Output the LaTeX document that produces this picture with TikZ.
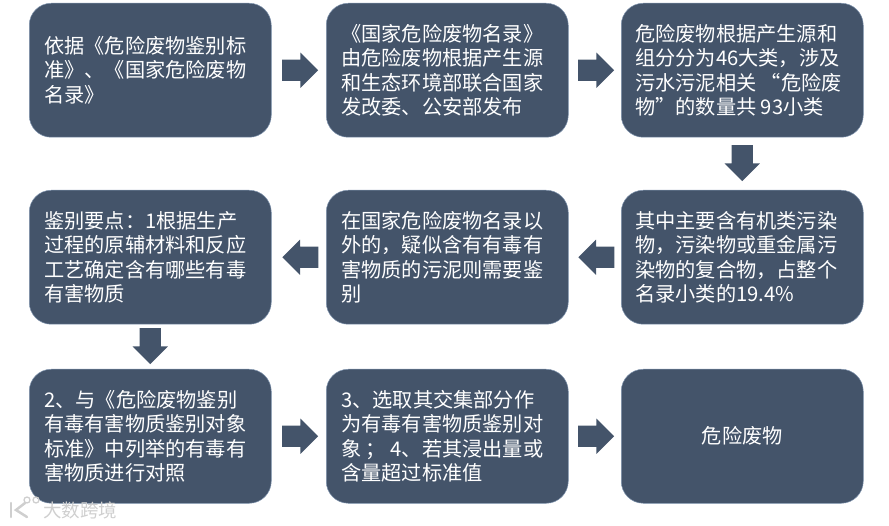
\documentclass[tikz,border=0pt]{standalone}
\usepackage{fontspec}
\setmainfont{Noto Sans CJK SC}
\usetikzlibrary{shapes.arrows,calc}
\definecolor{boxblue}{HTML}{44546A}
\definecolor{boxedge}{HTML}{7F93AD}
\definecolor{wmgray}{HTML}{CFCFCF}
\tikzset{
  x=1pt,y=-1pt,
  flowbox/.style={draw=boxedge,line width=0.5pt,fill=boxblue,rounded corners=22pt,minimum width=242pt,minimum height=134pt,inner sep=0pt,text=white,font=\fontsize{20.2pt}{24.3pt}\selectfont,align=left,anchor=north west},
  blockbase/.style={shape=single arrow,fill=boxblue,draw=none,minimum height=36pt,text depth=0pt,single arrow head extend=7pt,single arrow head indent=0pt,inner sep=0pt},
  rightarrow/.style={blockbase,text height=21pt,text width=16pt,xshift=-4pt},
  leftarrow/.style={blockbase,text height=21pt,text width=16pt,shape border rotate=180,xshift=7pt},
  downarrow/.style={blockbase,text width=21pt,text height=16pt,shape border rotate=270,yshift=6pt},
}
\begin{document}
\begin{tikzpicture}
\useasboundingbox (0,0) rectangle (889,526);
\node[flowbox] (a1) at (29,3) {\parbox{212pt}{依据《危险废物鉴别标\\准》、《国家危险废物\\名录》}};
\node[flowbox] (a2) at (326,3) {\parbox{212pt}{《国家危险废物名录》\\由危险废物根据产生源\\和生态环境部联合国家\\发改委、公安部发布}};
\node[flowbox] (a3) at (621,3) {\parbox{214pt}{危险废物根据产生源和\\组分分为46大类，涉及\\污水污泥相关 “危险废\\物”的数量共 93小类}};
\node[flowbox] (b3) at (621,190) {\parbox{214pt}{其中主要含有机类污染\\物，污染物或重金属污\\染物的复合物，占整个\\名录小类的19.4\%}};
\node[flowbox] (b2) at (326,190) {\parbox{212pt}{在国家危险废物名录以\\外的，疑似含有有毒有\\害物质的污泥则需要鉴\\别}};
\node[flowbox] (b1) at (29,190) {\parbox{212pt}{鉴别要点：1根据生产\\过程的原辅材料和反应\\工艺确定含有哪些有毒\\有害物质}};
\node[flowbox] (c1) at (29,369) {\parbox{212pt}{2、与《危险废物鉴别\\有毒有害物质鉴别对象\\标准》中列举的有毒有\\害物质进行对照}};
\node[flowbox] (c2) at (326,369) {\parbox{212pt}{3、选取其交集部分作\\为有毒有害物质鉴别对\\象 ； 4、若其浸出量或\\含量超过标准值}};
\node[flowbox,align=center] (c3) at (621,369) {危险废物};
\node[rightarrow] (ar1) at ($(a1.east)!0.5!(a2.west)$) {};
\node[rightarrow] (ar2) at ($(a2.east)!0.5!(a3.west)$) {};
\node[downarrow] (ar3) at ($(a3.south)!0.5!(b3.north)$) {};
\node[leftarrow] (ar4) at ($(b3.west)!0.5!(b2.east)$) {};
\node[leftarrow] (ar5) at ($(b2.west)!0.5!(b1.east)$) {};
\node[downarrow] (ar6) at ($(b1.south)!0.5!(c1.north)$) {};
\node[rightarrow] (ar7) at ($(c1.east)!0.5!(c2.west)$) {};
\node[rightarrow] (ar8) at ($(c2.east)!0.5!(c3.west)$) {};
\node[text=wmgray,font=\fontsize{18.5pt}{18.5pt}\selectfont,inner sep=0pt,anchor=west] (wm) at (43,510) {大数跨境};
\draw[wmgray,line width=2.5pt,line cap=round] (11,503) -- (11,517);
\draw[wmgray,line width=2.5pt,line cap=round] (25,503) -- (16,510) -- (27,517);
\draw[wmgray,line width=1.3pt] (27,500) circle (3);
\draw[wmgray,line width=1.3pt] (36,500) circle (3);
\end{tikzpicture}
\end{document}
